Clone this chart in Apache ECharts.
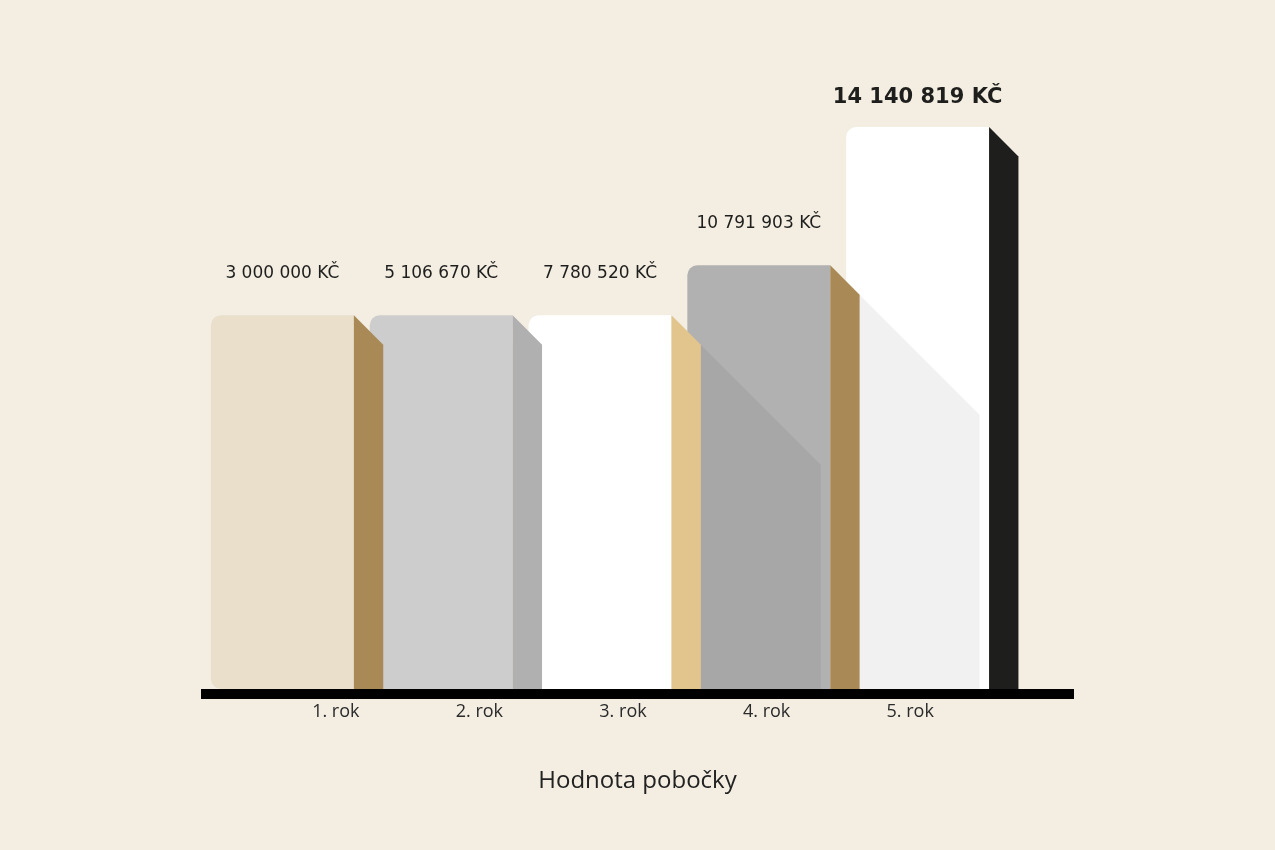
<!DOCTYPE html>
<html>
<head>
<meta charset="utf-8">
<script src="https://cdn.jsdelivr.net/npm/echarts@6/dist/echarts.min.js"></script>
<style>
html,body{margin:0;padding:0;background:#F3EDE2;}
#chart{width:1275px;height:850px;}
</style>
</head>
<body>
<div id="chart"></div>
<script>
// ---- data ----
const categories = ['1. rok', '2. rok', '3. rok', '4. rok', '5. rok'];
const values = [3000000, 5106670, 7780520, 10791903, 14140819];
// drawn bar heights (percent of the tallest bar; the design is not to scale)
const barLevels = [66.5, 66.5, 66.5, 75.4, 100];
const chartTitle = 'Hodnota pobočky';

// ---- styles ----
const frontColors = ['#E9DFCB', '#CDCDCD', '#FFFFFF', '#B1B1B1', '#FFFFFF'];
const sideColors = ['#A98A57', '#B0B0B0', '#E2C48D', '#A98A57', '#1E1E1C'];
const maxValue = Math.max.apply(null, values);

function fmt(n) {
  return String(n).replace(/\B(?=(\d{3})+(?!\d))/g, ' ') + ' KČ';
}

const chart = echarts.init(document.getElementById('chart'), null, {renderer: 'canvas'});

function renderItem(params, api) {
  const i = api.value(0);
  const level = api.value(1);
  const val = api.value(2);
  const base = api.coord([i, 0]);
  const topPt = api.coord([i, level]);
  const band = api.size([1, 0])[0];
  const fw = band * 0.9;
  const s = band * 0.185;
  const cx = base[0];
  const xl = cx - fw / 2;
  const xr = cx + fw / 2;
  const top = topPt[1];
  const by = base[1];
  const zb = (10 - i) * 10;
  const children = [];
  children.push({
    type: 'rect', z2: zb,
    shape: {x: xl, y: top, width: fw, height: by - top, r: [10, 0, 0, 10]},
    style: {fill: frontColors[i]}
  });
  if (i > 0 && level > barLevels[i - 1]) {
    const prevTop = api.coord([i - 1, barLevels[i - 1]])[1];
    const prevXr = api.coord([i - 1, 0])[0] + fw / 2;
    const xa = Math.max(prevXr + s, xl);
    const xb = Math.min(xr, xa + 120);
    children.push({
      type: 'polygon', z2: zb + 1,
      shape: {points: [[xa, prevTop + (xa - prevXr)], [xb, prevTop + (xb - prevXr)], [xb, by], [xa, by]]},
      style: {fill: 'rgba(0,0,0,0.055)'}
    });
  }
  children.push({
    type: 'polygon', z2: zb + 2,
    shape: {points: [[xr, top], [xr + s, top + s], [xr + s, by], [xr, by]]},
    style: {fill: sideColors[i]}
  });
  const isMax = val === maxValue;
  children.push({
    type: 'text', z2: zb + 3,
    x: cx, y: top - (isMax ? 29 : 42),
    style: {
      text: fmt(val),
      fill: '#1E1E1C',
      fontFamily: 'DejaVu Sans',
      fontSize: isMax ? 21 : 17,
      fontWeight: isMax ? 'bold' : 'normal',
      align: 'center',
      verticalAlign: 'middle'
    }
  });
  return {type: 'group', children: children};
}

const option = {
  backgroundColor: '#F3EDE2',
  animation: false,
  title: {
    text: chartTitle,
    left: 'center',
    top: 764,
    textStyle: {fontFamily: 'Open Sans', fontSize: 24, fontWeight: 'normal', color: '#222'}
  },
  grid: [
    {left: 203, right: 278, top: 127, bottom: 161},
    {left: 264, right: 293, top: 127, bottom: 161},
    {left: 201, right: 201, top: 127, bottom: 156}
  ],
  xAxis: [
    {gridIndex: 0, type: 'category', data: categories, show: false},
    {gridIndex: 1, type: 'category', data: categories,
      axisLine: {show: false}, axisTick: {show: false},
      axisLabel: {margin: 14, fontFamily: 'Open Sans', fontSize: 18, color: '#2a2a2a'}},
    {gridIndex: 2, type: 'value', min: 0, max: 1,
      axisLine: {show: true, lineStyle: {color: '#000', width: 10, cap: 'butt'}},
      axisTick: {show: false}, axisLabel: {show: false}, splitLine: {show: false}}
  ],
  yAxis: [
    {gridIndex: 0, type: 'value', min: 0, max: 100, show: false},
    {gridIndex: 1, type: 'value', min: 0, max: 100, show: false},
    {gridIndex: 2, type: 'value', min: 0, max: 100, show: false}
  ],
  series: [{
    type: 'custom',
    xAxisIndex: 0,
    yAxisIndex: 0,
    renderItem: renderItem,
    encode: {x: 0, y: 1},
    data: categories.map(function (c, i) { return [i, barLevels[i], values[i]]; }),
    z: 3
  }]
};
chart.setOption(option);
</script>
</body>
</html>
